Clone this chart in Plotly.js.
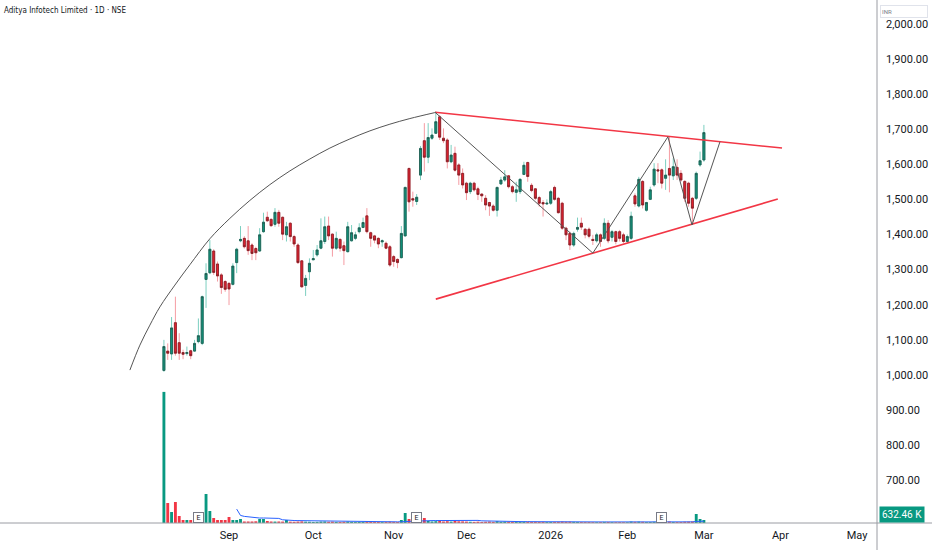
<!DOCTYPE html>
<html><head><meta charset="utf-8">
<script src="https://cdn.plot.ly/plotly-3.0.1.min.js"></script>
<style>html,body{margin:0;padding:0;background:#fff}#chart{width:932px;height:550px}</style>
</head><body><div id="chart"></div>
<script>
// ---- data (one bar per trading session, listing 5 Aug 2025 onward) ----
const openP = [1013,1068,1060,1149,1092,1064,1061,1069,1068,1095,1090,1272,1291,1353,1316,1285,1266,1261,1258,1320,
1382,1389,1382,1370,1360,1353,1408,1449,1443,1429,1463,1449,1399,1432,1394,1370,1325,1255,1294,1328,
1342,1361,1380,1424,1401,1361,1386,1368,1351,1382,1389,1408,1420,1453,1405,1396,1389,1379,1375,1365,
1337,1329,1334,1396,1588,1502,1494,1569,1667,1620,1674,1688,1735,1674,1669,1607,1631,1598,1574,1546,
1522,1546,1530,1515,1503,1491,1481,1469,1544,1555,1567,1536,1520,1522,1571,1605,1540,1530,1505,1491,
1487,1489,1534,1503,1489,1418,1403,1370,1415,1432,1415,1415,1386,1382,1399,1389,1432,1392,1408,1408,
1399,1380,1389,1510,1481,1551,1469,1500,1541,1584,1584,1560,1588,1567,1591,1574,1551,1546,1503,1503,
1598,1612];
const highP = [1100,1090,1165,1223,1119,1072,1081,1072,1100,1161,1226,1318,1384,1358,1323,1290,1270,1263,1318,1362,
1424,1395,1424,1375,1365,1418,1462,1465,1446,1475,1470,1451,1436,1435,1399,1375,1327,1285,1332,1356,
1370,1446,1451,1451,1403,1408,1389,1380,1436,1427,1408,1432,1448,1475,1408,1399,1392,1386,1380,1370,
1342,1332,1424,1536,1590,1522,1515,1652,1717,1717,1702,1750,1740,1702,1674,1655,1650,1603,1588,1550,
1550,1550,1536,1517,1512,1493,1486,1536,1564,1583,1569,1541,1550,1560,1607,1607,1546,1532,1510,1498,
1500,1527,1539,1507,1493,1422,1408,1408,1448,1448,1418,1420,1399,1405,1403,1446,1441,1413,1411,1413,
1405,1400,1465,1517,1564,1555,1493,1536,1603,1603,1588,1614,1678,1617,1614,1583,1555,1550,1507,1579,
1636,1712];
const lowP = [1009,1043,1043,1055,1043,1045,1055,1045,1066,1090,1085,1191,1287,1285,1266,1231,1237,1199,1255,1290,
1378,1360,1342,1327,1327,1351,1405,1436,1422,1422,1422,1384,1380,1380,1365,1316,1249,1225,1270,1327,
1337,1358,1373,1384,1337,1356,1351,1313,1349,1380,1384,1403,1418,1403,1365,1375,1361,1365,1358,1308,
1308,1304,1332,1394,1465,1479,1484,1555,1579,1603,1669,1686,1669,1660,1588,1603,1579,1541,1531,1498,
1515,1522,1498,1493,1469,1453,1465,1451,1541,1550,1531,1517,1493,1515,1569,1550,1520,1498,1479,1451,
1484,1484,1496,1460,1413,1384,1356,1365,1408,1413,1389,1389,1370,1377,1365,1384,1375,1380,1372,1380,
1375,1375,1384,1479,1477,1474,1465,1498,1536,1546,1531,1527,1520,1555,1555,1550,1493,1479,1427,1498,
1593,1607];
const closeP = [1081,1062,1134,1062,1062,1059,1064,1055,1090,1112,1223,1289,1358,1292,1282,1249,1244,1245,1310,1358,
1386,1365,1354,1346,1348,1399,1435,1439,1425,1463,1432,1401,1422,1394,1373,1320,1251,1275,1318,1331,
1356,1382,1422,1396,1361,1389,1361,1354,1422,1405,1399,1419,1434,1408,1389,1384,1373,1382,1361,1313,
1323,1320,1403,1534,1493,1498,1506,1645,1620,1676,1683,1721,1677,1667,1607,1626,1583,1569,1541,1519,
1546,1527,1514,1510,1484,1481,1469,1534,1555,1564,1536,1522,1527,1557,1597,1565,1525,1503,1489,1487,
1489,1522,1500,1462,1418,1399,1370,1403,1420,1421,1399,1395,1383,1399,1380,1432,1382,1408,1380,1389,
1380,1394,1452,1487,1557,1484,1491,1527,1586,1581,1546,1569,1569,1593,1569,1555,1503,1489,1475,1574,
1610,1690];
const volumeK = [27700,4230,2320,4440,1480,630,630,630,420,420,1700,6130,2540,1060,630,630,630,1270,630,630,
850,320,320,320,360,850,850,420,320,300,320,300,630,280,260,300,340,280,260,220,
240,300,320,260,280,230,220,260,300,240,200,220,240,300,220,200,210,190,220,280,
240,220,630,2110,850,320,420,1500,1060,420,320,380,420,320,380,300,420,360,340,300,
260,240,280,220,260,300,240,380,260,280,240,220,220,260,300,280,220,240,220,240,
200,210,220,240,300,260,280,240,220,200,190,200,180,170,190,240,230,180,170,180,
170,160,300,240,280,250,200,210,260,230,260,240,300,220,200,210,260,280,320,1900,
850,632.46];
const monthLabels = ['Sep','Oct','Nov','Dec','2026','Feb','Mar','Apr','May'];
const monthBarIdx = [17,39,60,79,101,121,141,161,181];
const priceTicks = [700,800,900,1000,1100,1200,1300,1400,1500,1600,1700,1800,1900,2000];
const earningsBarIdx = [9,66,130];
const titleText = 'Aditya Infotech Limited · 1D · NSE';
const currencyText = 'INR';
const lastVolumeText = '632.46 K';
// user drawings (bar index, price)
const arcBar = [-8.88,-6.27,-3.66,-1.04,2.87,6.79,12.01,17.23,22.45,27.68,32.90,38.12,43.34,48.56,53.79,59.01,64.23,70.76];
const arcPrice = [1014,1085,1142,1194,1256,1314,1388,1446,1497,1542,1581,1615,1646,1672,1695,1714,1730,1747];
const upperBar = [70.8,161.4], upperPrice = [1748,1646];
const lowerBar = [71.0,160.3], lowerPrice = [1216,1501];
const zigBar = [70.8,112.0,131.6,137.9,145.2];
const zigPrice = [1748,1347,1678,1427,1664];

// ---- derived ----
const barIdx = openP.map((_, i) => i);
const bodyHigh = openP.map((o, i) => Math.max(o, closeP[i]));
const bodyLow = openP.map((o, i) => Math.min(o, closeP[i]));
const UP = '#089981', DOWN = '#f23645';
const volColors = openP.map((o, i) => closeP[i] >= o ? UP : DOWN);
const volMA = volumeK.map((v, i) => i < 19 ? null : volumeK.slice(i - 19, i + 1).reduce((a, b) => a + b, 0) / 20);

const font = 'Roboto, "Liberation Sans", sans-serif';
const traces = [
  {type:'bar', x:barIdx, y:volumeK, yaxis:'y2', marker:{color:volColors, line:{width:0}}, hoverinfo:'skip'},
  {type:'scatter', mode:'lines', x:barIdx, y:volMA, yaxis:'y2', line:{color:'#2962ff', width:1}, hoverinfo:'skip'},
  {type:'candlestick', x:barIdx, open:openP, high:highP, low:lowP, close:closeP,
   increasing:{line:{color:'#7ccfc0', width:1}, fillcolor:'#7ccfc0'},
   decreasing:{line:{color:'#f59ca3', width:1}, fillcolor:'#f59ca3'}, hoverinfo:'skip'},
  {type:'candlestick', x:barIdx, open:openP, high:bodyHigh, low:bodyLow, close:closeP,
   increasing:{line:{color:'#23574d', width:0.8}, fillcolor:'#0e957c'},
   decreasing:{line:{color:'#7a1e25', width:0.8}, fillcolor:'#e8212f'}, hoverinfo:'skip'},
  {type:'scatter', mode:'lines', x:arcBar, y:arcPrice, line:{color:'#555555', width:1, shape:'spline', smoothing:1}, hoverinfo:'skip'},
  {type:'scatter', mode:'lines', x:upperBar, y:upperPrice, line:{color:'#f23645', width:1.6}, hoverinfo:'skip'},
  {type:'scatter', mode:'lines', x:lowerBar, y:lowerPrice, line:{color:'#f23645', width:1.6}, hoverinfo:'skip'},
  {type:'scatter', mode:'lines', x:zigBar, y:zigPrice, line:{color:'#555555', width:1}, hoverinfo:'skip'}
];

const annotations = earningsBarIdx.map(ix => ({
  x:ix, xref:'x', y:6/523, yref:'paper', yanchor:'middle', text:'E', showarrow:false,
  font:{family:font, size:7, color:'#131722'}, bgcolor:'#ffffff', bordercolor:'#787b86', borderwidth:1, borderpad:1, width:7, height:7
}));
annotations.push({x:0, y:1, xref:'paper', yref:'paper', xanchor:'left', yanchor:'top', xshift:2, yshift:-4,
  text:titleText, showarrow:false, font:{family:'"Liberation Sans Narrow","DejaVu Sans Condensed","Liberation Sans",sans-serif', size:8, color:'#131722'}});
annotations.push({x:1, y:1, xref:'paper', yref:'paper', xanchor:'left', yanchor:'top', xshift:3, yshift:-5,
  text:currencyText, showarrow:false, align:'left', width:44, height:9,
  font:{family:font, size:6, color:'#787b86'}, bgcolor:'#ffffff', bordercolor:'#e0e3eb', borderwidth:1, borderpad:1});
annotations.push({x:1, y:0, xref:'paper', yref:'paper', xanchor:'left', yanchor:'bottom', xshift:2,
  text:lastVolumeText, showarrow:false, font:{family:font, size:10, color:'#ffffff'}, bgcolor:UP, borderpad:2});

const layout = {
  width:932, height:550, margin:{l:0, r:55, t:0, b:27},
  paper_bgcolor:'#ffffff', plot_bgcolor:'#ffffff', showlegend:false,
  boxgap:0.25, bargap:0.25,
  xaxis:{range:[-42.8,186.2], tickvals:monthBarIdx, ticktext:monthLabels, ticks:'', showgrid:false, zeroline:false,
    showline:false, rangeslider:{visible:false}, fixedrange:true, ticklabelstandoff:4,
    tickfont:{family:font, size:11, color:'#131722'}},
  yaxis:{range:[578.7,2067.5], side:'right', tickvals:priceTicks, tickformat:',.2f', ticks:'', showgrid:false,
    zeroline:false, showline:false, fixedrange:true, ticklabelstandoff:8,
    tickfont:{family:font, size:11, color:'#131722'}},
  yaxis2:{overlaying:'y', range:[0,110500], visible:false, fixedrange:true},
  shapes:[
    {type:'line', xref:'paper', yref:'paper', x0:1, x1:1, y0:-0.07, y1:1, line:{color:'#9a9ca3', width:1}},
    {type:'line', xref:'paper', yref:'paper', x0:0, x1:1.07, y0:0, y1:0, line:{color:'#9a9ca3', width:1}}
  ],
  annotations:annotations
};
Plotly.newPlot('chart', traces, layout, {displayModeBar:false, staticPlot:true});
</script></body></html>
